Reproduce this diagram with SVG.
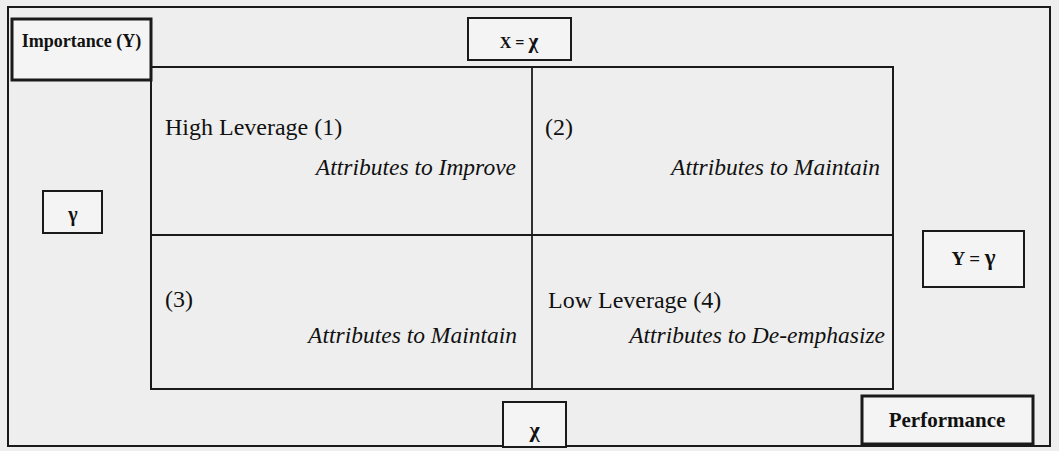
<svg xmlns="http://www.w3.org/2000/svg" width="1059" height="451" viewBox="0 0 1059 451">
  <style>
    .bg { fill: #eeeeee; }
    .frame { fill: none; stroke: #1a1a1a; stroke-width: 2; }
    .box { fill: #f4f4f4; stroke: #1a1a1a; stroke-width: 2; }
    .thick { fill: #f4f4f4; stroke: #1a1a1a; stroke-width: 3; }
    .line { stroke: #1a1a1a; stroke-width: 1.8; fill: none; }
    .t { font-family: "Liberation Serif", "Times New Roman", serif; fill: #111; }
    .lab { font-size: 24px; }
    .it { font-size: 23.5px; font-style: italic; }
    .b { font-weight: bold; }
  </style>
  <rect class="bg" x="0" y="0" width="1059" height="451"/>
  <rect class="frame" x="8" y="7" width="1042" height="439"/>

  <g id="connectors">
    <rect class="frame" x="151" y="67" width="742" height="322"/>
    <line class="line" x1="532" y1="67" x2="532" y2="389"/>
    <line class="line" x1="151" y1="235" x2="893" y2="235"/>
  </g>

  <g id="importance">
    <rect class="thick" x="12" y="19" width="139" height="61"/>
    <text class="t b" x="81.5" y="47" font-size="18" text-anchor="middle">Importance (Y)</text>
  </g>

  <g id="x-equals">
    <rect class="box" x="468" y="18" width="103" height="42"/>
    <text class="t b" x="519" y="48" font-size="16" text-anchor="middle">X = <tspan font-size="21">χ</tspan></text>
  </g>

  <g id="gamma">
    <rect class="box" x="43" y="191" width="59" height="42"/>
    <text class="t b" x="73" y="221" font-size="20" text-anchor="middle">γ</text>
  </g>

  <g id="y-equals">
    <rect class="box" x="923" y="231" width="101" height="56"/>
    <text class="t b" x="973.5" y="265" font-size="19" text-anchor="middle">Y = <tspan font-size="23">γ</tspan></text>
  </g>

  <g id="chi">
    <rect class="box" x="503" y="402" width="63" height="45"/>
    <text class="t b" x="534.5" y="437" font-size="22" text-anchor="middle">χ</text>
  </g>

  <g id="performance">
    <rect class="thick" x="862" y="396" width="171" height="48"/>
    <text class="t b" x="947" y="427" font-size="21" text-anchor="middle">Performance</text>
  </g>

  <g id="q1">
    <text class="t lab" x="165" y="135">High Leverage (1)</text>
    <text class="t it" x="516" y="175" text-anchor="end">Attributes to Improve</text>
  </g>
  <g id="q2">
    <text class="t lab" x="545" y="135">(2)</text>
    <text class="t it" x="880" y="175" text-anchor="end">Attributes to Maintain</text>
  </g>
  <g id="q3">
    <text class="t lab" x="165" y="307">(3)</text>
    <text class="t it" x="517" y="343" text-anchor="end">Attributes to Maintain</text>
  </g>
  <g id="q4">
    <text class="t lab" x="548" y="308">Low Leverage (4)</text>
    <text class="t it" x="885" y="343" text-anchor="end">Attributes to De-emphasize</text>
  </g>
</svg>
